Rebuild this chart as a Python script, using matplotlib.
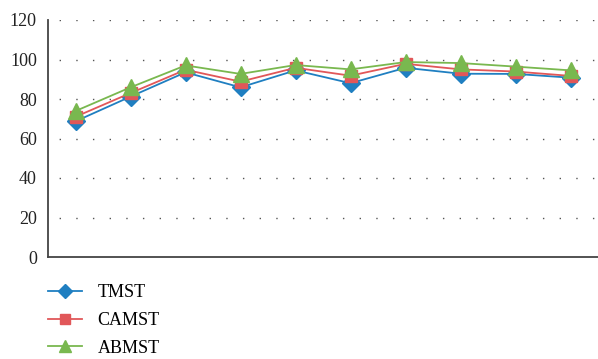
import matplotlib
matplotlib.use("Agg")
import matplotlib.pyplot as plt

categories = list(range(1, 11))
tmst = [68.7, 81.2, 93.5, 85.9, 94.5, 88.0, 95.8, 92.8, 92.7, 90.8]
camst = [71.0, 83.0, 94.8, 88.8, 95.8, 91.8, 97.8, 95.0, 93.9, 91.7]
abmst = [73.9, 85.9, 97.0, 92.7, 97.2, 95.0, 98.7, 98.2, 96.4, 94.5]
yticks = [0, 20, 40, 60, 80, 100, 120]

plt.rcParams['font.family'] = ['Liberation Serif', 'DejaVu Serif']

fig = plt.figure(figsize=(5.98, 3.59), dpi=100)
ax = fig.add_axes([48/598, 1-257/359, 1-48/598, (257-20)/359])

blue = '#1f7fc1'
red = '#e15759'
green = '#79b84f'

x = list(range(len(categories)))
l1, = ax.plot(x, tmst, color=blue, lw=1.3, marker='D', ms=9, label='TMST', zorder=3)
l2, = ax.plot(x, camst, color=red, lw=1.3, marker='s', ms=9, label='CAMST', zorder=4)
l3, = ax.plot(x, abmst, color=green, lw=1.3, marker='^', ms=11, label='ABMST', zorder=5)

ax.set_xlim(-0.5, len(categories) - 0.5)
ax.set_ylim(0, 120)
ax.set_yticks(yticks)
ax.set_yticklabels([str(v) for v in yticks], fontsize=13, color='#222222')
ax.set_xticks([])
ax.tick_params(axis='y', length=0, pad=8)
for v in yticks[1:]:
    ax.axhline(v, color='#555555', lw=1.0, ls=(4, (1, 11)), zorder=1)
for s in ['top', 'right']:
    ax.spines[s].set_visible(False)
for s in ['left', 'bottom']:
    ax.spines[s].set_color('#444444')
    ax.spines[s].set_linewidth(1.3)

fig.legend(handles=[l1, l2, l3], loc='upper left', bbox_to_anchor=(48/598, 1-284/359),
           frameon=False, fontsize=13, handlelength=1.9, handletextpad=0.85,
           labelspacing=0.6, markerscale=0.8, borderaxespad=0, borderpad=0)

fig.savefig('out.png', dpi=100)
